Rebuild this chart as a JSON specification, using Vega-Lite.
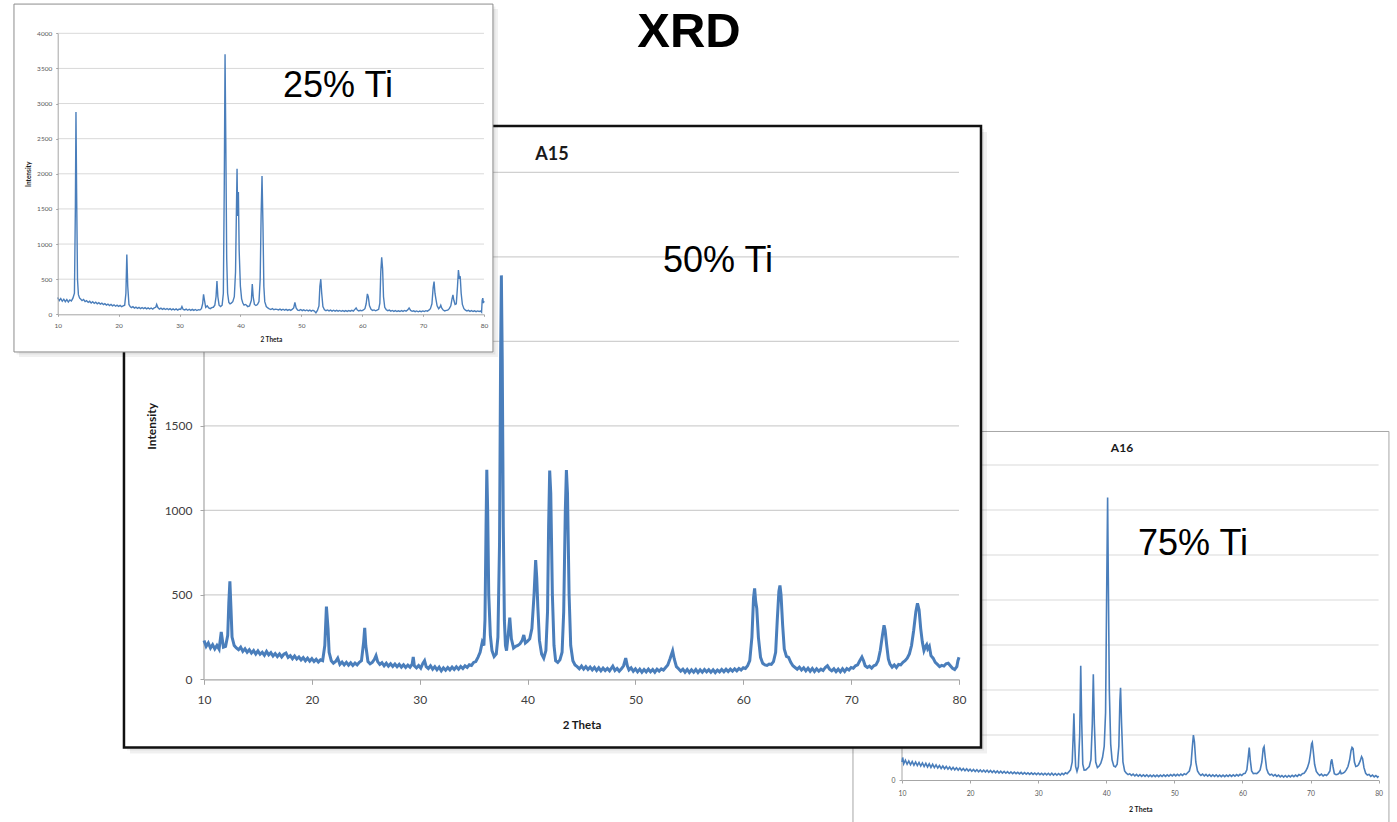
{
  "$schema": "https://vega.github.io/schema/vega-lite/v6.json",
  "width": 1397,
  "height": 822,
  "padding": 0,
  "autosize": {"type": "none"},
  "background": "white",
  "config": {"view": {"stroke": null}},
  "datasets": {
    "a15": [
      {"t":10,"v":230},{"t":10.2,"v":195},{"t":10.4,"v":215},{"t":10.6,"v":185},{"t":10.8,"v":205},{"t":11,"v":180},{"t":11.2,"v":200},{"t":11.4,"v":178},{"t":11.6,"v":280},{"t":11.8,"v":190},{"t":12,"v":195},{"t":12.2,"v":260},{"t":12.3,"v":450},{"t":12.4,"v":580},{"t":12.5,"v":420},{"t":12.6,"v":250},{"t":12.8,"v":200},{"t":13,"v":185},{"t":13.2,"v":175},{"t":13.4,"v":190},{"t":13.6,"v":165},{"t":13.8,"v":180},{"t":14,"v":160},{"t":14.2,"v":175},{"t":14.4,"v":155},{"t":14.6,"v":170},{"t":14.8,"v":150},{"t":15,"v":168},{"t":15.2,"v":148},{"t":15.4,"v":160},{"t":15.6,"v":142},{"t":15.8,"v":165},{"t":16,"v":145},{"t":16.2,"v":158},{"t":16.4,"v":138},{"t":16.6,"v":152},{"t":16.8,"v":135},{"t":17,"v":150},{"t":17.2,"v":132},{"t":17.4,"v":148},{"t":17.6,"v":155},{"t":17.8,"v":130},{"t":18,"v":140},{"t":18.2,"v":122},{"t":18.4,"v":138},{"t":18.6,"v":120},{"t":18.8,"v":132},{"t":19,"v":115},{"t":19.2,"v":128},{"t":19.4,"v":110},{"t":19.6,"v":125},{"t":19.8,"v":108},{"t":20,"v":122},{"t":20.2,"v":105},{"t":20.4,"v":118},{"t":20.6,"v":102},{"t":20.8,"v":115},{"t":21,"v":110},{"t":21.2,"v":200},{"t":21.35,"v":430},{"t":21.5,"v":300},{"t":21.6,"v":160},{"t":21.8,"v":110},{"t":22,"v":95},{"t":22.2,"v":105},{"t":22.4,"v":125},{"t":22.6,"v":88},{"t":22.8,"v":102},{"t":23,"v":85},{"t":23.2,"v":100},{"t":23.4,"v":84},{"t":23.6,"v":98},{"t":23.8,"v":82},{"t":24,"v":96},{"t":24.2,"v":85},{"t":24.4,"v":100},{"t":24.6,"v":110},{"t":24.8,"v":220},{"t":24.9,"v":305},{"t":25,"v":200},{"t":25.2,"v":105},{"t":25.4,"v":92},{"t":25.6,"v":100},{"t":25.8,"v":118},{"t":25.95,"v":140},{"t":26.1,"v":105},{"t":26.3,"v":88},{"t":26.5,"v":98},{"t":26.7,"v":80},{"t":26.9,"v":95},{"t":27.1,"v":78},{"t":27.3,"v":92},{"t":27.5,"v":76},{"t":27.7,"v":90},{"t":27.9,"v":74},{"t":28.1,"v":88},{"t":28.3,"v":72},{"t":28.5,"v":86},{"t":28.7,"v":70},{"t":28.9,"v":84},{"t":29.1,"v":72},{"t":29.3,"v":90},{"t":29.4,"v":132},{"t":29.5,"v":80},{"t":29.7,"v":68},{"t":29.9,"v":82},{"t":30.1,"v":66},{"t":30.3,"v":95},{"t":30.45,"v":110},{"t":30.6,"v":75},{"t":30.8,"v":64},{"t":31,"v":80},{"t":31.2,"v":60},{"t":31.4,"v":75},{"t":31.6,"v":56},{"t":31.8,"v":72},{"t":32,"v":50},{"t":32.2,"v":68},{"t":32.4,"v":54},{"t":32.6,"v":70},{"t":32.8,"v":56},{"t":33,"v":72},{"t":33.2,"v":58},{"t":33.4,"v":74},{"t":33.6,"v":60},{"t":33.8,"v":76},{"t":34,"v":64},{"t":34.2,"v":80},{"t":34.4,"v":70},{"t":34.6,"v":86},{"t":34.8,"v":82},{"t":35,"v":100},{"t":35.2,"v":105},{"t":35.4,"v":130},{"t":35.6,"v":160},{"t":35.8,"v":220},{"t":35.95,"v":200},{"t":36.05,"v":350},{"t":36.15,"v":900},{"t":36.22,"v":1240},{"t":36.3,"v":1000},{"t":36.4,"v":500},{"t":36.55,"v":260},{"t":36.7,"v":170},{"t":36.9,"v":135},{"t":37.1,"v":150},{"t":37.25,"v":250},{"t":37.4,"v":800},{"t":37.5,"v":1900},{"t":37.57,"v":2390},{"t":37.65,"v":1900},{"t":37.75,"v":900},{"t":37.85,"v":350},{"t":37.95,"v":200},{"t":38.05,"v":170},{"t":38.2,"v":260},{"t":38.35,"v":365},{"t":38.5,"v":240},{"t":38.7,"v":185},{"t":38.9,"v":195},{"t":39.1,"v":200},{"t":39.3,"v":210},{"t":39.5,"v":230},{"t":39.65,"v":262},{"t":39.8,"v":215},{"t":40,"v":225},{"t":40.2,"v":240},{"t":40.4,"v":300},{"t":40.6,"v":500},{"t":40.75,"v":705},{"t":40.85,"v":600},{"t":40.95,"v":430},{"t":41.1,"v":230},{"t":41.3,"v":150},{"t":41.5,"v":125},{"t":41.7,"v":170},{"t":41.85,"v":400},{"t":41.95,"v":900},{"t":42.05,"v":1235},{"t":42.15,"v":1100},{"t":42.3,"v":500},{"t":42.45,"v":200},{"t":42.6,"v":110},{"t":42.8,"v":100},{"t":43,"v":115},{"t":43.2,"v":160},{"t":43.35,"v":400},{"t":43.5,"v":1000},{"t":43.6,"v":1238},{"t":43.7,"v":1100},{"t":43.85,"v":500},{"t":44,"v":200},{"t":44.2,"v":110},{"t":44.4,"v":85},{"t":44.6,"v":75},{"t":44.8,"v":62},{"t":45,"v":78},{"t":45.2,"v":60},{"t":45.4,"v":75},{"t":45.6,"v":58},{"t":45.8,"v":72},{"t":46,"v":56},{"t":46.2,"v":70},{"t":46.4,"v":52},{"t":46.6,"v":68},{"t":46.8,"v":50},{"t":47,"v":66},{"t":47.2,"v":52},{"t":47.4,"v":64},{"t":47.6,"v":50},{"t":47.9,"v":78},{"t":48.1,"v":52},{"t":48.3,"v":64},{"t":48.5,"v":48},{"t":48.7,"v":62},{"t":48.9,"v":80},{"t":49.1,"v":125},{"t":49.25,"v":80},{"t":49.4,"v":56},{"t":49.6,"v":68},{"t":49.8,"v":48},{"t":50,"v":62},{"t":50.2,"v":44},{"t":50.4,"v":60},{"t":50.6,"v":42},{"t":50.8,"v":58},{"t":51,"v":44},{"t":51.2,"v":60},{"t":51.4,"v":45},{"t":51.6,"v":58},{"t":51.8,"v":42},{"t":52,"v":60},{"t":52.2,"v":48},{"t":52.4,"v":62},{"t":52.6,"v":55},{"t":52.8,"v":70},{"t":53,"v":85},{"t":53.2,"v":120},{"t":53.45,"v":168},{"t":53.6,"v":120},{"t":53.8,"v":75},{"t":54,"v":62},{"t":54.2,"v":48},{"t":54.4,"v":60},{"t":54.6,"v":42},{"t":54.8,"v":58},{"t":55,"v":40},{"t":55.2,"v":56},{"t":55.4,"v":42},{"t":55.6,"v":58},{"t":55.8,"v":40},{"t":56,"v":56},{"t":56.2,"v":42},{"t":56.4,"v":58},{"t":56.6,"v":44},{"t":56.8,"v":57},{"t":57,"v":42},{"t":57.2,"v":56},{"t":57.4,"v":40},{"t":57.6,"v":55},{"t":57.8,"v":44},{"t":58,"v":58},{"t":58.2,"v":45},{"t":58.4,"v":60},{"t":58.6,"v":46},{"t":58.8,"v":60},{"t":59,"v":48},{"t":59.2,"v":62},{"t":59.4,"v":50},{"t":59.6,"v":64},{"t":59.8,"v":55},{"t":60,"v":68},{"t":60.2,"v":64},{"t":60.4,"v":80},{"t":60.6,"v":110},{"t":60.8,"v":250},{"t":60.95,"v":480},{"t":61.05,"v":538},{"t":61.15,"v":460},{"t":61.25,"v":420},{"t":61.4,"v":250},{"t":61.6,"v":130},{"t":61.8,"v":95},{"t":62,"v":85},{"t":62.2,"v":82},{"t":62.4,"v":90},{"t":62.6,"v":88},{"t":62.8,"v":105},{"t":63,"v":160},{"t":63.15,"v":350},{"t":63.3,"v":520},{"t":63.4,"v":555},{"t":63.5,"v":500},{"t":63.65,"v":320},{"t":63.8,"v":180},{"t":64,"v":135},{"t":64.2,"v":130},{"t":64.4,"v":100},{"t":64.6,"v":80},{"t":64.8,"v":70},{"t":65,"v":60},{"t":65.2,"v":72},{"t":65.4,"v":55},{"t":65.6,"v":68},{"t":65.8,"v":50},{"t":66,"v":66},{"t":66.2,"v":48},{"t":66.4,"v":64},{"t":66.6,"v":46},{"t":66.8,"v":62},{"t":67,"v":48},{"t":67.2,"v":60},{"t":67.4,"v":52},{"t":67.6,"v":70},{"t":67.8,"v":80},{"t":68,"v":60},{"t":68.2,"v":50},{"t":68.4,"v":62},{"t":68.6,"v":45},{"t":68.8,"v":60},{"t":69,"v":44},{"t":69.2,"v":62},{"t":69.4,"v":46},{"t":69.6,"v":64},{"t":69.8,"v":55},{"t":70,"v":70},{"t":70.2,"v":65},{"t":70.4,"v":80},{"t":70.6,"v":85},{"t":70.8,"v":110},{"t":71,"v":132},{"t":71.15,"v":110},{"t":71.3,"v":80},{"t":71.5,"v":70},{"t":71.7,"v":78},{"t":71.9,"v":66},{"t":72.1,"v":80},{"t":72.3,"v":85},{"t":72.5,"v":110},{"t":72.7,"v":170},{"t":72.9,"v":260},{"t":73.05,"v":320},{"t":73.15,"v":290},{"t":73.3,"v":200},{"t":73.45,"v":120},{"t":73.6,"v":90},{"t":73.8,"v":72},{"t":74,"v":85},{"t":74.2,"v":70},{"t":74.4,"v":88},{"t":74.6,"v":85},{"t":74.8,"v":100},{"t":75,"v":110},{"t":75.2,"v":125},{"t":75.4,"v":150},{"t":75.6,"v":200},{"t":75.8,"v":290},{"t":76,"v":400},{"t":76.15,"v":450},{"t":76.3,"v":410},{"t":76.45,"v":300},{"t":76.6,"v":220},{"t":76.75,"v":170},{"t":76.9,"v":195},{"t":77,"v":205},{"t":77.1,"v":180},{"t":77.25,"v":195},{"t":77.4,"v":140},{"t":77.6,"v":125},{"t":77.8,"v":100},{"t":78,"v":88},{"t":78.2,"v":75},{"t":78.4,"v":82},{"t":78.6,"v":78},{"t":78.8,"v":92},{"t":79,"v":95},{"t":79.2,"v":80},{"t":79.4,"v":65},{"t":79.6,"v":58},{"t":79.8,"v":75},{"t":79.9,"v":110},{"t":80,"v":130}
    ],
    "a25": [
      {"t":10,"v":240},{"t":10.25,"v":195},{"t":10.5,"v":225},{"t":10.75,"v":185},{"t":11,"v":215},{"t":11.25,"v":180},{"t":11.5,"v":210},{"t":11.75,"v":175},{"t":12,"v":205},{"t":12.25,"v":190},{"t":12.5,"v":230},{"t":12.75,"v":300},{"t":12.9,"v":1500},{"t":13,"v":2880},{"t":13.1,"v":1800},{"t":13.25,"v":500},{"t":13.4,"v":280},{"t":13.6,"v":230},{"t":13.8,"v":215},{"t":14,"v":195},{"t":14.25,"v":210},{"t":14.5,"v":180},{"t":14.75,"v":195},{"t":15,"v":170},{"t":15.25,"v":185},{"t":15.5,"v":160},{"t":15.75,"v":178},{"t":16,"v":155},{"t":16.25,"v":172},{"t":16.5,"v":150},{"t":16.75,"v":165},{"t":17,"v":145},{"t":17.25,"v":160},{"t":17.5,"v":138},{"t":17.75,"v":152},{"t":18,"v":132},{"t":18.25,"v":146},{"t":18.5,"v":125},{"t":18.75,"v":140},{"t":19,"v":120},{"t":19.25,"v":135},{"t":19.5,"v":115},{"t":19.75,"v":130},{"t":20,"v":112},{"t":20.25,"v":126},{"t":20.5,"v":108},{"t":20.75,"v":120},{"t":21,"v":130},{"t":21.2,"v":300},{"t":21.35,"v":850},{"t":21.5,"v":400},{"t":21.7,"v":140},{"t":21.9,"v":110},{"t":22.1,"v":95},{"t":22.35,"v":108},{"t":22.6,"v":88},{"t":22.85,"v":102},{"t":23.1,"v":85},{"t":23.35,"v":98},{"t":23.6,"v":82},{"t":23.85,"v":96},{"t":24.1,"v":80},{"t":24.35,"v":94},{"t":24.6,"v":78},{"t":24.85,"v":92},{"t":25.1,"v":76},{"t":25.35,"v":90},{"t":25.6,"v":75},{"t":25.85,"v":90},{"t":26.1,"v":100},{"t":26.25,"v":140},{"t":26.45,"v":95},{"t":26.7,"v":75},{"t":26.95,"v":88},{"t":27.2,"v":70},{"t":27.45,"v":84},{"t":27.7,"v":68},{"t":27.95,"v":82},{"t":28.2,"v":66},{"t":28.45,"v":80},{"t":28.7,"v":64},{"t":28.95,"v":78},{"t":29.2,"v":62},{"t":29.45,"v":76},{"t":29.7,"v":60},{"t":29.95,"v":74},{"t":30.2,"v":70},{"t":30.4,"v":110},{"t":30.6,"v":68},{"t":30.85,"v":62},{"t":31.1,"v":74},{"t":31.35,"v":58},{"t":31.6,"v":72},{"t":31.85,"v":56},{"t":32.1,"v":70},{"t":32.35,"v":55},{"t":32.6,"v":68},{"t":32.85,"v":54},{"t":33.1,"v":66},{"t":33.35,"v":60},{"t":33.6,"v":80},{"t":33.8,"v":150},{"t":33.95,"v":285},{"t":34.1,"v":200},{"t":34.3,"v":100},{"t":34.55,"v":120},{"t":34.8,"v":90},{"t":35.05,"v":80},{"t":35.3,"v":95},{"t":35.55,"v":100},{"t":35.8,"v":130},{"t":36,"v":250},{"t":36.15,"v":475},{"t":36.3,"v":250},{"t":36.5,"v":130},{"t":36.75,"v":110},{"t":37,"v":130},{"t":37.2,"v":300},{"t":37.35,"v":1800},{"t":37.48,"v":3700},{"t":37.6,"v":2500},{"t":37.75,"v":800},{"t":37.9,"v":300},{"t":38.1,"v":170},{"t":38.3,"v":150},{"t":38.5,"v":160},{"t":38.75,"v":180},{"t":39,"v":250},{"t":39.2,"v":600},{"t":39.35,"v":1500},{"t":39.45,"v":2070},{"t":39.55,"v":1400},{"t":39.67,"v":1740},{"t":39.8,"v":900},{"t":40,"v":400},{"t":40.2,"v":220},{"t":40.4,"v":160},{"t":40.6,"v":130},{"t":40.85,"v":140},{"t":41,"v":130},{"t":41.2,"v":110},{"t":41.5,"v":120},{"t":41.8,"v":200},{"t":41.95,"v":430},{"t":42.1,"v":250},{"t":42.3,"v":140},{"t":42.55,"v":125},{"t":42.8,"v":140},{"t":43.05,"v":180},{"t":43.25,"v":500},{"t":43.4,"v":1400},{"t":43.55,"v":1970},{"t":43.7,"v":1300},{"t":43.85,"v":400},{"t":44,"v":180},{"t":44.25,"v":110},{"t":44.5,"v":90},{"t":44.75,"v":78},{"t":45,"v":68},{"t":45.25,"v":80},{"t":45.5,"v":65},{"t":45.75,"v":74},{"t":46,"v":70},{"t":46.25,"v":62},{"t":46.5,"v":74},{"t":46.75,"v":60},{"t":47,"v":72},{"t":47.25,"v":58},{"t":47.5,"v":70},{"t":47.75,"v":56},{"t":48,"v":68},{"t":48.25,"v":55},{"t":48.5,"v":70},{"t":48.75,"v":90},{"t":48.95,"v":170},{"t":49.15,"v":90},{"t":49.4,"v":60},{"t":49.65,"v":55},{"t":49.9,"v":68},{"t":50.15,"v":52},{"t":50.4,"v":64},{"t":50.65,"v":50},{"t":50.9,"v":62},{"t":51.15,"v":48},{"t":51.4,"v":60},{"t":51.65,"v":46},{"t":51.9,"v":58},{"t":52.15,"v":45},{"t":52.4,"v":20},{"t":52.65,"v":55},{"t":52.9,"v":120},{"t":53.05,"v":400},{"t":53.2,"v":500},{"t":53.35,"v":300},{"t":53.55,"v":110},{"t":53.8,"v":65},{"t":54.05,"v":52},{"t":54.3,"v":62},{"t":54.55,"v":48},{"t":54.8,"v":60},{"t":55.05,"v":46},{"t":55.3,"v":58},{"t":55.55,"v":45},{"t":55.8,"v":56},{"t":56.05,"v":44},{"t":56.3,"v":55},{"t":56.55,"v":43},{"t":56.8,"v":54},{"t":57.05,"v":42},{"t":57.3,"v":53},{"t":57.55,"v":42},{"t":57.8,"v":54},{"t":58.05,"v":44},{"t":58.3,"v":56},{"t":58.55,"v":46},{"t":58.8,"v":70},{"t":59,"v":90},{"t":59.2,"v":60},{"t":59.45,"v":48},{"t":59.7,"v":58},{"t":59.95,"v":50},{"t":60.2,"v":62},{"t":60.45,"v":80},{"t":60.65,"v":150},{"t":60.85,"v":290},{"t":61,"v":250},{"t":61.2,"v":120},{"t":61.45,"v":70},{"t":61.7,"v":55},{"t":61.95,"v":62},{"t":62.2,"v":50},{"t":62.45,"v":60},{"t":62.7,"v":70},{"t":62.9,"v":160},{"t":63.05,"v":600},{"t":63.2,"v":810},{"t":63.35,"v":650},{"t":63.5,"v":250},{"t":63.7,"v":100},{"t":63.95,"v":65},{"t":64.2,"v":52},{"t":64.45,"v":60},{"t":64.7,"v":45},{"t":64.95,"v":55},{"t":65.2,"v":42},{"t":65.45,"v":52},{"t":65.7,"v":40},{"t":65.95,"v":50},{"t":66.2,"v":40},{"t":66.45,"v":52},{"t":66.7,"v":42},{"t":66.95,"v":55},{"t":67.2,"v":45},{"t":67.45,"v":60},{"t":67.7,"v":90},{"t":67.95,"v":55},{"t":68.2,"v":42},{"t":68.45,"v":50},{"t":68.7,"v":38},{"t":68.95,"v":48},{"t":69.2,"v":36},{"t":69.45,"v":46},{"t":69.7,"v":38},{"t":69.95,"v":48},{"t":70.2,"v":40},{"t":70.45,"v":52},{"t":70.7,"v":45},{"t":70.95,"v":60},{"t":71.2,"v":80},{"t":71.45,"v":150},{"t":71.65,"v":380},{"t":71.8,"v":465},{"t":71.95,"v":300},{"t":72.1,"v":220},{"t":72.3,"v":120},{"t":72.55,"v":80},{"t":72.75,"v":100},{"t":72.9,"v":130},{"t":73.05,"v":90},{"t":73.3,"v":60},{"t":73.55,"v":48},{"t":73.8,"v":55},{"t":74.05,"v":60},{"t":74.3,"v":80},{"t":74.55,"v":120},{"t":74.75,"v":220},{"t":74.9,"v":275},{"t":75.05,"v":200},{"t":75.25,"v":140},{"t":75.45,"v":150},{"t":75.65,"v":400},{"t":75.8,"v":630},{"t":75.95,"v":520},{"t":76.1,"v":530},{"t":76.25,"v":300},{"t":76.45,"v":140},{"t":76.7,"v":80},{"t":76.95,"v":60},{"t":77.2,"v":48},{"t":77.45,"v":56},{"t":77.7,"v":42},{"t":77.95,"v":52},{"t":78.2,"v":40},{"t":78.45,"v":50},{"t":78.7,"v":38},{"t":78.95,"v":48},{"t":79.2,"v":40},{"t":79.45,"v":45},{"t":79.6,"v":30},{"t":79.7,"v":200},{"t":79.8,"v":230},{"t":79.9,"v":160},{"t":80,"v":190}
    ],
    "a16": [
      {"t":10,"v":80},{"t":10.1,"v":100},{"t":10.25,"v":72},{"t":10.5,"v":88},{"t":10.75,"v":70},{"t":11,"v":84},{"t":11.25,"v":68},{"t":11.5,"v":82},{"t":11.75,"v":66},{"t":12,"v":80},{"t":12.25,"v":64},{"t":12.5,"v":78},{"t":12.75,"v":62},{"t":13,"v":76},{"t":13.25,"v":60},{"t":13.5,"v":74},{"t":13.75,"v":58},{"t":14,"v":72},{"t":14.25,"v":56},{"t":14.5,"v":70},{"t":14.75,"v":55},{"t":15,"v":67},{"t":15.25,"v":53},{"t":15.5,"v":64},{"t":15.75,"v":51},{"t":16,"v":62},{"t":16.25,"v":50},{"t":16.5,"v":60},{"t":16.75,"v":48},{"t":17,"v":58},{"t":17.25,"v":46},{"t":17.5,"v":56},{"t":17.75,"v":45},{"t":18,"v":54},{"t":18.25,"v":44},{"t":18.5,"v":53},{"t":18.75,"v":42},{"t":19,"v":51},{"t":19.25,"v":41},{"t":19.5,"v":50},{"t":19.75,"v":40},{"t":20,"v":48},{"t":20.25,"v":39},{"t":20.5,"v":47},{"t":20.75,"v":38},{"t":21,"v":46},{"t":21.25,"v":37},{"t":21.5,"v":45},{"t":21.75,"v":36},{"t":22,"v":44},{"t":22.25,"v":35},{"t":22.5,"v":43},{"t":22.75,"v":34},{"t":23,"v":42},{"t":23.25,"v":33},{"t":23.5,"v":41},{"t":23.75,"v":32},{"t":24,"v":40},{"t":24.25,"v":31},{"t":24.5,"v":39},{"t":24.75,"v":31},{"t":25,"v":38},{"t":25.25,"v":30},{"t":25.5,"v":37},{"t":25.75,"v":29},{"t":26,"v":36},{"t":26.25,"v":28},{"t":26.5,"v":35},{"t":26.75,"v":28},{"t":27,"v":34},{"t":27.25,"v":27},{"t":27.5,"v":34},{"t":27.75,"v":26},{"t":28,"v":33},{"t":28.25,"v":26},{"t":28.5,"v":32},{"t":28.75,"v":25},{"t":29,"v":32},{"t":29.25,"v":25},{"t":29.5,"v":31},{"t":29.75,"v":24},{"t":30,"v":31},{"t":30.25,"v":24},{"t":30.5,"v":30},{"t":30.75,"v":23},{"t":31,"v":30},{"t":31.25,"v":23},{"t":31.5,"v":30},{"t":31.75,"v":22},{"t":32,"v":30},{"t":32.25,"v":22},{"t":32.5,"v":29},{"t":32.75,"v":22},{"t":33,"v":29},{"t":33.25,"v":22},{"t":33.5,"v":30},{"t":33.75,"v":24},{"t":34,"v":32},{"t":34.25,"v":28},{"t":34.5,"v":36},{"t":34.75,"v":45},{"t":35,"v":80},{"t":35.15,"v":200},{"t":35.25,"v":296},{"t":35.35,"v":180},{"t":35.5,"v":60},{"t":35.7,"v":38},{"t":35.9,"v":60},{"t":36.1,"v":200},{"t":36.25,"v":508},{"t":36.4,"v":250},{"t":36.55,"v":70},{"t":36.75,"v":44},{"t":37,"v":45},{"t":37.25,"v":52},{"t":37.5,"v":60},{"t":37.75,"v":90},{"t":37.95,"v":250},{"t":38.1,"v":470},{"t":38.25,"v":250},{"t":38.45,"v":80},{"t":38.7,"v":55},{"t":38.95,"v":62},{"t":39.2,"v":75},{"t":39.45,"v":100},{"t":39.7,"v":150},{"t":39.9,"v":300},{"t":40.05,"v":800},{"t":40.2,"v":1256},{"t":40.3,"v":900},{"t":40.45,"v":400},{"t":40.65,"v":160},{"t":40.85,"v":90},{"t":41.1,"v":62},{"t":41.35,"v":58},{"t":41.6,"v":70},{"t":41.85,"v":150},{"t":42,"v":350},{"t":42.1,"v":410},{"t":42.25,"v":250},{"t":42.45,"v":80},{"t":42.7,"v":40},{"t":42.95,"v":30},{"t":43.2,"v":24},{"t":43.45,"v":28},{"t":43.7,"v":20},{"t":43.95,"v":26},{"t":44.2,"v":18},{"t":44.45,"v":25},{"t":44.7,"v":17},{"t":44.95,"v":24},{"t":45.2,"v":16},{"t":45.45,"v":23},{"t":45.7,"v":16},{"t":45.95,"v":23},{"t":46.2,"v":15},{"t":46.45,"v":22},{"t":46.7,"v":15},{"t":46.95,"v":22},{"t":47.2,"v":15},{"t":47.45,"v":22},{"t":47.7,"v":15},{"t":47.95,"v":22},{"t":48.2,"v":16},{"t":48.45,"v":23},{"t":48.7,"v":16},{"t":48.95,"v":23},{"t":49.2,"v":17},{"t":49.45,"v":24},{"t":49.7,"v":18},{"t":49.95,"v":25},{"t":50.2,"v":18},{"t":50.45,"v":25},{"t":50.7,"v":19},{"t":50.95,"v":26},{"t":51.2,"v":20},{"t":51.45,"v":28},{"t":51.7,"v":24},{"t":51.95,"v":32},{"t":52.2,"v":40},{"t":52.45,"v":70},{"t":52.65,"v":150},{"t":52.8,"v":200},{"t":52.95,"v":170},{"t":53.15,"v":80},{"t":53.4,"v":40},{"t":53.65,"v":28},{"t":53.9,"v":20},{"t":54.15,"v":26},{"t":54.4,"v":18},{"t":54.65,"v":25},{"t":54.9,"v":17},{"t":55.15,"v":24},{"t":55.4,"v":16},{"t":55.65,"v":23},{"t":55.9,"v":16},{"t":56.15,"v":23},{"t":56.4,"v":15},{"t":56.65,"v":22},{"t":56.9,"v":15},{"t":57.15,"v":22},{"t":57.4,"v":15},{"t":57.65,"v":22},{"t":57.9,"v":16},{"t":58.15,"v":23},{"t":58.4,"v":16},{"t":58.65,"v":23},{"t":58.9,"v":17},{"t":59.15,"v":24},{"t":59.4,"v":18},{"t":59.65,"v":25},{"t":59.9,"v":20},{"t":60.15,"v":28},{"t":60.4,"v":30},{"t":60.65,"v":45},{"t":60.85,"v":100},{"t":61,"v":144},{"t":61.15,"v":90},{"t":61.35,"v":40},{"t":61.6,"v":28},{"t":61.85,"v":30},{"t":62.1,"v":28},{"t":62.35,"v":35},{"t":62.6,"v":45},{"t":62.85,"v":80},{"t":63.05,"v":140},{"t":63.18,"v":148},{"t":63.35,"v":100},{"t":63.55,"v":50},{"t":63.8,"v":30},{"t":64.05,"v":22},{"t":64.3,"v":26},{"t":64.55,"v":18},{"t":64.8,"v":24},{"t":65.05,"v":16},{"t":65.3,"v":22},{"t":65.55,"v":14},{"t":65.8,"v":20},{"t":66.05,"v":13},{"t":66.3,"v":20},{"t":66.55,"v":13},{"t":66.8,"v":20},{"t":67.05,"v":14},{"t":67.3,"v":21},{"t":67.55,"v":15},{"t":67.8,"v":22},{"t":68.05,"v":16},{"t":68.3,"v":24},{"t":68.55,"v":20},{"t":68.8,"v":28},{"t":69.05,"v":30},{"t":69.3,"v":40},{"t":69.55,"v":55},{"t":69.8,"v":80},{"t":70,"v":120},{"t":70.15,"v":160},{"t":70.26,"v":167},{"t":70.4,"v":130},{"t":70.6,"v":70},{"t":70.85,"v":38},{"t":71.1,"v":28},{"t":71.35,"v":20},{"t":71.6,"v":26},{"t":71.85,"v":18},{"t":72.1,"v":24},{"t":72.35,"v":20},{"t":72.6,"v":28},{"t":72.85,"v":40},{"t":73,"v":80},{"t":73.13,"v":92},{"t":73.3,"v":60},{"t":73.5,"v":28},{"t":73.75,"v":24},{"t":74,"v":26},{"t":74.2,"v":30},{"t":74.36,"v":40},{"t":74.5,"v":28},{"t":74.75,"v":30},{"t":75,"v":35},{"t":75.25,"v":45},{"t":75.5,"v":60},{"t":75.75,"v":90},{"t":75.95,"v":130},{"t":76.1,"v":145},{"t":76.25,"v":140},{"t":76.45,"v":80},{"t":76.65,"v":60},{"t":76.85,"v":62},{"t":77.05,"v":68},{"t":77.3,"v":85},{"t":77.5,"v":104},{"t":77.65,"v":95},{"t":77.85,"v":55},{"t":78.1,"v":30},{"t":78.35,"v":22},{"t":78.6,"v":25},{"t":78.85,"v":16},{"t":79.1,"v":22},{"t":79.35,"v":14},{"t":79.6,"v":20},{"t":79.85,"v":12},{"t":80,"v":18}
    ]
  },
  "resolve": {"scale": {"x": "independent", "y": "independent"}, "axis": {"x": "independent", "y": "independent"}},
  "layer": [
    {
      "layer": [
        {
          "data": {"values": [{"panel": "A16"}]},
          "mark": {"type": "rect", "fill": "white", "stroke": "#a6a6a6", "strokeWidth": 1},
          "encoding": {
            "x": {"datum": 2.8, "type": "quantitative"},
            "x2": {"datum": 81.52},
            "y": {"datum": -222, "type": "quantitative"},
            "y2": {"datum": 1549}
          }
        },
        {
          "data": {"values": [{"g": 200}, {"g": 400}, {"g": 600}, {"g": 800}, {"g": 1000}, {"g": 1200}, {"g": 1400}]},
          "mark": {"type": "rule", "color": "#d9d9d9", "strokeWidth": 1},
          "encoding": {
            "y": {"field": "g", "type": "quantitative"},
            "x": {"datum": 10, "type": "quantitative"},
            "x2": {"datum": 80}
          }
        },
        {
          "data": {"values": [{"panel": "A16"}]},
          "mark": {"type": "rule", "color": "#a6a6a6", "strokeWidth": 1},
          "encoding": {
            "x": {"datum": 10, "type": "quantitative"},
            "y": {"datum": 0, "type": "quantitative"},
            "y2": {"datum": 1400}
          }
        },
        {
          "data": {"name": "a16"},
          "mark": {"type": "line", "color": "#4a7ebb", "strokeWidth": 1.6},
          "encoding": {
            "x": {
              "field": "t", "type": "quantitative",
              "scale": {"domain": [10, 80], "range": [902, 1378.6], "nice": false, "zero": false},
              "axis": {
                "orient": "bottom", "offset": -42, "zindex": 1, "grid": false,
                "values": [10, 20, 30, 40, 50, 60, 70, 80], "format": "d",
                "domainColor": "#a6a6a6", "tickColor": "#a6a6a6", "tickSize": 3,
                "labelFont": "Lato", "labelFontSize": 6.8, "labelColor": "#595959", "labelPadding": 7,
                "labelFlush": false, "labelOverlap": false,
                "title": "2 Theta", "titleFont": "Lato", "titleFontSize": 7, "titleFontWeight": "bold", "titleColor": "#1a1a1a", "titlePadding": 8.5
              }
            },
            "y": {
              "field": "v", "type": "quantitative",
              "scale": {"domain": [0, 1400], "range": [780, 465], "nice": false},
              "axis": {
                "orient": "left", "offset": -902, "zindex": 1, "grid": false, "domain": false,
                "values": [0], "format": "d", "tickColor": "#a6a6a6", "tickSize": 3,
                "labelFont": "Lato", "labelFontSize": 6.8, "labelColor": "#595959", "labelPadding": 4,
                "title": null
              }
            }
          }
        },
        {
          "data": {"values": [{"label": "A16"}]},
          "mark": {"type": "text", "font": "Lato", "fontSize": 12, "fontWeight": "bold", "color": "#1a1a1a", "align": "center", "baseline": "middle"},
          "encoding": {
            "x": {"datum": 42.31, "type": "quantitative"},
            "y": {"datum": 1475, "type": "quantitative"},
            "text": {"field": "label"}
          }
        },
        {
          "data": {"values": [{"label": "75% Ti"}]},
          "mark": {"type": "text", "font": "Liberation Sans", "fontSize": 36, "color": "black", "align": "left", "baseline": "alphabetic"},
          "encoding": {
            "x": {"datum": 44.66, "type": "quantitative"},
            "y": {"datum": 1000, "type": "quantitative"},
            "text": {"field": "label"}
          }
        }
      ]
    },
    {
      "layer": [
        {
          "data": {"values": [{"panel": "A15"}]},
          "mark": {"type": "rect", "fill": "black", "opacity": 0.06, "xOffset": 3, "x2Offset": 3, "yOffset": 3, "y2Offset": 3},
          "encoding": {
            "x": {"datum": 2.58, "type": "quantitative"},
            "x2": {"datum": 82.04},
            "y": {"datum": -403.5, "type": "quantitative"},
            "y2": {"datum": 3274}
          }
        },
        {
          "data": {"values": [{"panel": "A15"}]},
          "mark": {"type": "rect", "fill": "black", "opacity": 0.06, "xOffset": 6, "x2Offset": 6, "yOffset": 6, "y2Offset": 6},
          "encoding": {
            "x": {"datum": 2.58, "type": "quantitative"},
            "x2": {"datum": 82.04},
            "y": {"datum": -403.5, "type": "quantitative"},
            "y2": {"datum": 3274}
          }
        },
        {
          "data": {"values": [{"panel": "A15"}]},
          "mark": {"type": "rect", "fill": "white", "stroke": "#111111", "strokeWidth": 2.5},
          "encoding": {
            "x": {"datum": 2.58, "type": "quantitative"},
            "x2": {"datum": 82.04},
            "y": {"datum": -403.5, "type": "quantitative"},
            "y2": {"datum": 3274}
          }
        },
        {
          "data": {"values": [{"g": 500}, {"g": 1000}, {"g": 1500}, {"g": 2000}, {"g": 2500}, {"g": 3000}]},
          "mark": {"type": "rule", "color": "#d0d0d0", "strokeWidth": 1.2},
          "encoding": {
            "y": {"field": "g", "type": "quantitative"},
            "x": {"datum": 10, "type": "quantitative"},
            "x2": {"datum": 80}
          }
        },
        {
          "data": {"values": [{"panel": "A15"}]},
          "mark": {"type": "rule", "color": "#a6a6a6", "strokeWidth": 1.2},
          "encoding": {
            "x": {"datum": 10, "type": "quantitative"},
            "y": {"datum": 0, "type": "quantitative"},
            "y2": {"datum": 3000}
          }
        },
        {
          "data": {"name": "a15"},
          "mark": {"type": "line", "color": "#4a7ebb", "strokeWidth": 3},
          "encoding": {
            "x": {
              "field": "t", "type": "quantitative",
              "scale": {"domain": [10, 80], "range": [204, 959], "nice": false, "zero": false},
              "axis": {
                "orient": "bottom", "offset": -142.7, "zindex": 1, "grid": false,
                "values": [10, 20, 30, 40, 50, 60, 70, 80], "format": "d",
                "domainColor": "#a6a6a6", "domainWidth": 1.2, "tickColor": "#a6a6a6", "tickSize": 5,
                "labelFont": "Lato", "labelFontSize": 12, "labelColor": "#404040", "labelPadding": 10,
                "labelFlush": false, "labelOverlap": false,
                "title": "2 Theta", "titleFont": "Lato", "titleFontSize": 11.5, "titleFontWeight": "bold", "titleColor": "#1a1a1a", "titlePadding": 14
              }
            },
            "y": {
              "field": "v", "type": "quantitative",
              "scale": {"domain": [0, 3000], "range": [679.3, 172.3], "nice": false},
              "axis": {
                "orient": "left", "offset": -204, "zindex": 1, "grid": false, "domain": false,
                "values": [0, 500, 1000, 1500], "format": "d", "tickColor": "#a6a6a6", "tickSize": 4,
                "labelFont": "Lato", "labelFontSize": 12, "labelColor": "#404040", "labelPadding": 8,
                "labelOverlap": false,
                "title": "Intensity", "titleFont": "Lato", "titleFontSize": 12, "titleFontWeight": "bold", "titleColor": "#1a1a1a", "titlePadding": 6
              }
            }
          }
        },
        {
          "data": {"values": [{"label": "A15"}]},
          "mark": {"type": "text", "font": "Lato", "fontSize": 18, "fontWeight": "bold", "color": "#1a1a1a", "align": "center", "baseline": "middle"},
          "encoding": {
            "x": {"datum": 42.26, "type": "quantitative"},
            "y": {"datum": 3102, "type": "quantitative"},
            "text": {"field": "label"}
          }
        },
        {
          "data": {"values": [{"label": "50% Ti"}]},
          "mark": {"type": "text", "font": "Liberation Sans", "fontSize": 36, "color": "black", "align": "left", "baseline": "alphabetic"},
          "encoding": {
            "x": {"datum": 52.56, "type": "quantitative"},
            "y": {"datum": 2410, "type": "quantitative"},
            "text": {"field": "label"}
          }
        },
        {
          "data": {"values": [{"label": "XRD"}]},
          "mark": {"type": "text", "font": "Liberation Sans", "fontSize": 49, "fontWeight": "bold", "color": "black", "align": "center", "baseline": "alphabetic"},
          "encoding": {
            "x": {"datum": 54.97, "type": "quantitative"},
            "y": {"datum": 3741, "type": "quantitative"},
            "text": {"field": "label"}
          }
        }
      ]
    },
    {
      "layer": [
        {
          "data": {"values": [{"panel": "25"}]},
          "mark": {"type": "rect", "fill": "black", "opacity": 0.06, "xOffset": 2.5, "x2Offset": 2.5, "yOffset": 2.5, "y2Offset": 2.5},
          "encoding": {
            "x": {"datum": 2.82, "type": "quantitative"},
            "x2": {"datum": 81.47},
            "y": {"datum": -536, "type": "quantitative"},
            "y2": {"datum": 4416}
          }
        },
        {
          "data": {"values": [{"panel": "25"}]},
          "mark": {"type": "rect", "fill": "black", "opacity": 0.06, "xOffset": 5, "x2Offset": 5, "yOffset": 5, "y2Offset": 5},
          "encoding": {
            "x": {"datum": 2.82, "type": "quantitative"},
            "x2": {"datum": 81.47},
            "y": {"datum": -536, "type": "quantitative"},
            "y2": {"datum": 4416}
          }
        },
        {
          "data": {"values": [{"panel": "25"}]},
          "mark": {"type": "rect", "fill": "white", "stroke": "#8c8c8c", "strokeWidth": 1},
          "encoding": {
            "x": {"datum": 2.82, "type": "quantitative"},
            "x2": {"datum": 81.47},
            "y": {"datum": -536, "type": "quantitative"},
            "y2": {"datum": 4416}
          }
        },
        {
          "data": {"values": [{"g": 500}, {"g": 1000}, {"g": 1500}, {"g": 2000}, {"g": 2500}, {"g": 3000}, {"g": 3500}, {"g": 4000}]},
          "mark": {"type": "rule", "color": "#d9d9d9", "strokeWidth": 1},
          "encoding": {
            "y": {"field": "g", "type": "quantitative"},
            "x": {"datum": 10, "type": "quantitative"},
            "x2": {"datum": 80}
          }
        },
        {
          "data": {"name": "a25"},
          "mark": {"type": "line", "color": "#4a7ebb", "strokeWidth": 1.4},
          "encoding": {
            "x": {
              "field": "t", "type": "quantitative",
              "scale": {"domain": [10, 80], "range": [57.7, 484], "nice": false, "zero": false},
              "axis": {
                "orient": "bottom", "offset": -507.7, "zindex": 1, "grid": false,
                "values": [10, 20, 30, 40, 50, 60, 70, 80], "format": "d",
                "domainColor": "#a6a6a6", "tickColor": "#a6a6a6", "tickSize": 2,
                "labelFont": "Lato", "labelFontSize": 6.5, "labelColor": "#595959", "labelPadding": 6,
                "labelFlush": false, "labelOverlap": false,
                "title": "2 Theta", "titleFont": "Lato", "titleFontSize": 6.5, "titleFontWeight": "bold", "titleColor": "#1a1a1a", "titlePadding": 8
              }
            },
            "y": {
              "field": "v", "type": "quantitative",
              "scale": {"domain": [0, 4000], "range": [314.3, 33.3], "nice": false},
              "axis": {
                "orient": "left", "offset": -57.7, "zindex": 1, "grid": false,
                "values": [0, 500, 1000, 1500, 2000, 2500, 3000, 3500, 4000], "format": "d",
                "domainColor": "#a6a6a6", "tickColor": "#a6a6a6", "tickSize": 2,
                "labelFont": "Lato", "labelFontSize": 6.5, "labelColor": "#595959", "labelPadding": 4,
                "labelOverlap": false,
                "title": "Intensity", "titleFont": "Lato", "titleFontSize": 6.5, "titleFontWeight": "bold", "titleColor": "#1a1a1a", "titlePadding": 5
              }
            }
          }
        },
        {
          "data": {"values": [{"label": "25% Ti"}]},
          "mark": {"type": "text", "font": "Liberation Sans", "fontSize": 36, "color": "black", "align": "left", "baseline": "alphabetic"},
          "encoding": {
            "x": {"datum": 47.0, "type": "quantitative"},
            "y": {"datum": 3092, "type": "quantitative"},
            "text": {"field": "label"}
          }
        }
      ]
    }
  ]
}
